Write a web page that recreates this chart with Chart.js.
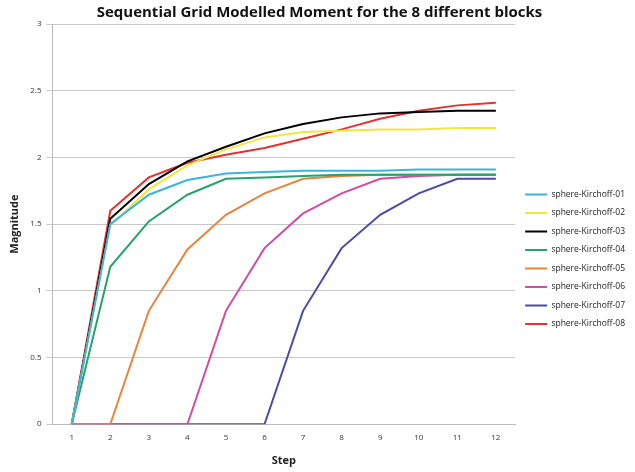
<!DOCTYPE html>
<html lang="en">
<head>
    <meta charset="UTF-8">
    <title>Sequential Grid Modelled Moment</title>
    <script src="https://cdn.jsdelivr.net/npm/chart.js"></script>
    <style>
        body { margin: 0; background: #fff; }
    </style>
</head>
<body>
    <canvas id="grafico" width="635" height="472"></canvas>

    <script>
        // datos
        const steps = ['1', '2', '3', '4', '5', '6', '7', '8', '9', '10', '11', '12'];
        const seriesNames = ['sphere-Kirchoff-01', 'sphere-Kirchoff-02', 'sphere-Kirchoff-03', 'sphere-Kirchoff-04',
            'sphere-Kirchoff-05', 'sphere-Kirchoff-06', 'sphere-Kirchoff-07', 'sphere-Kirchoff-08'];
        const k01 = [0, 1.50, 1.72, 1.83, 1.88, 1.89, 1.90, 1.90, 1.90, 1.91, 1.91, 1.91];
        const k02 = [0, 1.49, 1.76, 1.94, 2.06, 2.15, 2.19, 2.20, 2.21, 2.21, 2.22, 2.22];
        const k03 = [0, 1.54, 1.80, 1.97, 2.08, 2.18, 2.25, 2.30, 2.33, 2.34, 2.35, 2.35];
        const k04 = [0, 1.18, 1.52, 1.72, 1.84, 1.85, 1.86, 1.87, 1.87, 1.87, 1.87, 1.87];
        const k05 = [0, 0, 0.85, 1.31, 1.57, 1.73, 1.84, 1.86, 1.87, 1.87, 1.87, 1.87];
        const k06 = [0, 0, 0, 0, 0.85, 1.32, 1.58, 1.73, 1.84, 1.86, 1.87, 1.87];
        const k07 = [0, 0, 0, 0, 0, 0, 0.85, 1.32, 1.57, 1.73, 1.84, 1.84];
        const k08 = [0, 1.60, 1.85, 1.96, 2.02, 2.07, 2.14, 2.21, 2.29, 2.35, 2.39, 2.41];
        const colores = ['#3db4de', '#f2e640', '#000000', '#27a36a', '#e8853c', '#d14ca4', '#4b4ba6', '#e23232'];

        const valores = [k01, k02, k03, k04, k05, k06, k07, k08];
        const fuente = 'Open Sans, Liberation Sans, sans-serif';

        const ctx = document.getElementById('grafico').getContext('2d');
        new Chart(ctx, {
            type: 'line',
            data: {
                labels: steps,
                datasets: valores.map((v, i) => ({
                    label: seriesNames[i],
                    data: v,
                    borderColor: colores[i],
                    backgroundColor: colores[i],
                    borderWidth: 2,
                    pointRadius: 0,
                    tension: 0,
                    fill: false
                }))
            },
            options: {
                responsive: false,
                animation: false,
                layout: { padding: { left: 4, right: 0, top: 2, bottom: 5 } },
                plugins: {
                    title: {
                        display: true,
                        text: 'Sequential Grid Modelled Moment for the 8 different blocks',
                        color: '#111',
                        font: { family: fuente, size: 15, weight: 'bold' },
                        padding: { top: 2, bottom: 2 }
                    },
                    legend: {
                        position: 'right',
                        title: { display: true, text: ' ', font: { size: 8 }, padding: { top: 40, bottom: 0 } },
                        labels: {
                            usePointStyle: true,
                            pointStyle: 'line',
                            pointStyleWidth: 22,
                            boxWidth: 22,
                            padding: 10,
                            color: '#222',
                            font: { family: fuente, size: 8.5 }
                        }
                    },
                    tooltip: { enabled: false }
                },
                scales: {
                    x: {
                        offset: true,
                        grid: { display: false, drawTicks: false },
                        border: { color: '#bbb' },
                        ticks: { color: '#333', font: { family: fuente, size: 8 }, padding: 9 },
                        title: {
                            display: true,
                            text: 'Step',
                            color: '#222',
                            font: { family: fuente, size: 11, weight: 'bold' },
                            padding: { top: 2, bottom: 0 }
                        }
                    },
                    y: {
                        min: 0,
                        max: 3,
                        ticks: {
                            stepSize: 0.5,
                            color: '#333',
                            font: { family: fuente, size: 8 },
                            padding: 5,
                            callback: v => String(v)
                        },
                        grid: { color: '#c8c8c8', tickLength: 6 },
                        border: { color: '#bbb' },
                        title: {
                            display: true,
                            text: 'Magnitude',
                            color: '#222',
                            font: { family: fuente, size: 11, weight: 'bold' },
                            padding: { bottom: 4 }
                        }
                    }
                }
            }
        });
    </script>
</body>
</html>
